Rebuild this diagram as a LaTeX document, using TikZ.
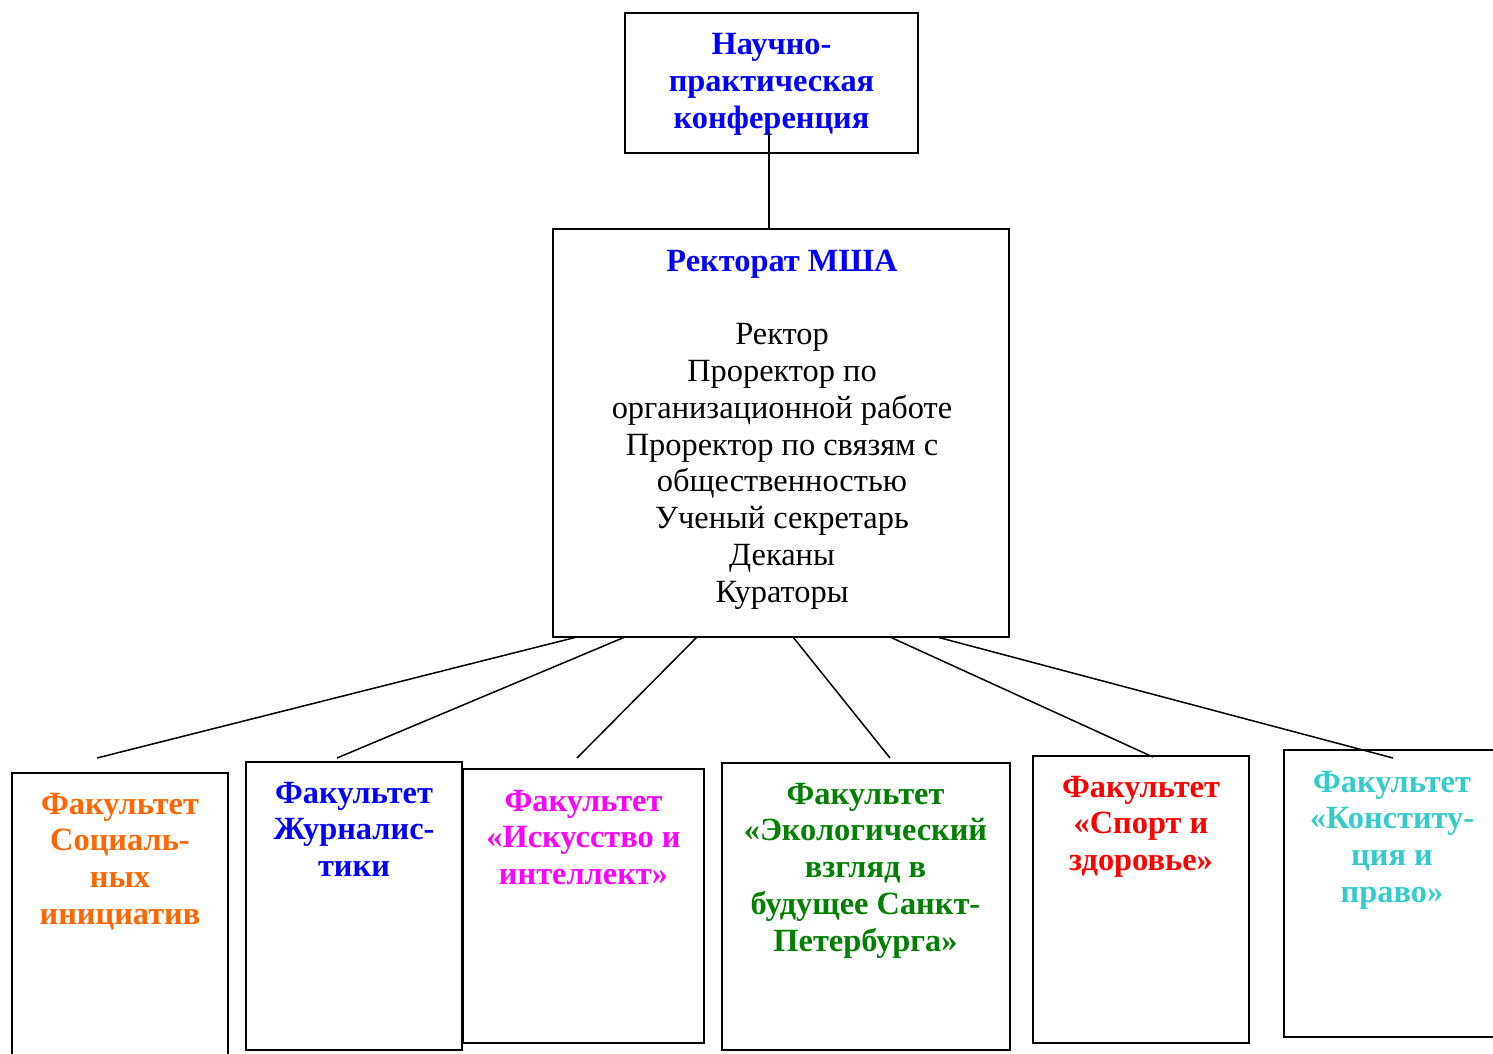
\documentclass[tikz,border=0pt]{standalone}
\usepackage{fontspec}
\setmainfont{Liberation Serif}
\usetikzlibrary{calc}
\definecolor{fblue}{HTML}{0000FF}
\definecolor{forange}{HTML}{FF6600}
\definecolor{fmagenta}{HTML}{FF00FF}
\definecolor{fgreen}{HTML}{008000}
\definecolor{fred}{HTML}{FF0000}
\definecolor{fcyan}{HTML}{33CCCC}
\begin{document}
\begin{tikzpicture}[x=0.5pt,y=-0.5pt,
  box/.style={draw, line width=1pt, inner sep=0pt, outer sep=0pt, anchor=north west},
  conn/.style={line width=0.75pt},
  txt/.style={anchor=base, inner sep=0pt, font=\fontsize{16.2}{18.4}\selectfont}]
\useasboundingbox (0,0) rectangle (1493,1054);
\clip (0,0) rectangle (1493,1054);
% top box
\node[box, minimum width=146.5pt, minimum height=70pt] (top) at (625,13) {};
\node[txt, text=fblue] (toptxt) at (771.5,55) {\parbox[t]{160pt}{\centering\bfseries Научно-\\практическая\\конференция}};
% rectorate
\node[box, minimum width=228pt, minimum height=204pt] (rect) at (553,229) {};
\node[txt] (recttxt) at (782,271) {\parbox[t]{225pt}{\centering\textcolor{fblue}{\bfseries Ректорат МША}\\[18.4pt]Ректор\\Проректор по\\организационной работе\\Проректор по связям с\\общественностью\\Ученый секретарь\\Деканы\\Кураторы}};
% faculties
\node[box, minimum width=108pt, minimum height=160pt] (f1) at (12,773) {};
\node[box, minimum width=108pt, minimum height=144pt] (f2) at (246,762) {};
\node[box, minimum width=120.5pt, minimum height=137pt] (f3) at (462.5,769) {};
\node[box, minimum width=144pt, minimum height=143.5pt] (f4) at (721.5,763) {};
\node[box, minimum width=108pt, minimum height=143.5pt] (f5) at (1033,756) {};
\node[box, minimum width=110pt, minimum height=143.5pt] (f6) at (1284,750) {};
\node[txt, text=forange] (t1) at (120,814) {\parbox[t]{150pt}{\centering\bfseries Факультет\\Социаль-\\ных\\инициатив}};
\node[txt, text=fblue] (t2) at (354,803) {\parbox[t]{150pt}{\centering\bfseries Факультет\\Журналис-\\тики}};
\node[txt, text=fmagenta] (t3) at (583.5,811) {\parbox[t]{150pt}{\centering\bfseries Факультет\\«Искусство и\\интеллект»}};
\node[txt, text=fgreen] (t4) at (865.5,804) {\parbox[t]{160pt}{\centering\bfseries Факультет\\«Экологический\\взгляд в\\будущее Санкт-\\Петербурга»}};
\node[txt, text=fred] (t5) at (1141,797) {\parbox[t]{150pt}{\centering\bfseries Факультет\\«Спорт и\\здоровье»}};
\node[txt, text=fcyan] (t6) at (1392,792) {\parbox[t]{150pt}{\centering\bfseries Факультет\\«Конститу-\\ция и\\право»}};
% connectors
\draw[conn] ($(top.south)+(-2.5,-20)$) -- ($(top.south |- rect.north)+(-2.5,0)$);
\coordinate (c1) at (97,758);
\coordinate (c2) at (337,758);
\coordinate (c3) at (577,758);
\coordinate (c4) at (890,758);
\coordinate (c5) at (1153,757);
\coordinate (c6) at (1393,758);
\draw[conn] ($(rect.south west)+(24,0)$) -- (c1);
\draw[conn] ($(rect.south west)+(72,0)$) -- (c2);
\draw[conn] ($(rect.south west)+(144,0)$) -- (c3);
\draw[conn] ($(rect.south west)+(240,0)$) -- (c4);
\draw[conn] ($(rect.south west)+(337,0)$) -- (c5);
\draw[conn] ($(rect.south west)+(384,0)$) -- (c6);
\end{tikzpicture}
\end{document}
